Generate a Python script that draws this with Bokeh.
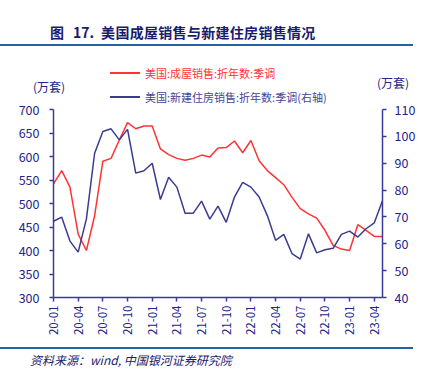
from bokeh.plotting import figure
from bokeh.models import Range1d, LinearAxis, FixedTicker, ColumnDataSource, Div
from bokeh.layouts import column
from bokeh.embed import file_html
from bokeh.resources import INLINE
import math

months = ["20-01", "20-02", "20-03", "20-04", "20-05", "20-06", "20-07", "20-08", "20-09", "20-10",
          "20-11", "20-12", "21-01", "21-02", "21-03", "21-04", "21-05", "21-06", "21-07", "21-08",
          "21-09", "21-10", "21-11", "21-12", "22-01", "22-02", "22-03", "22-04", "22-05", "22-06",
          "22-07", "22-08", "22-09", "22-10", "22-11", "22-12", "23-01", "23-02", "23-03", "23-04",
          "23-05"]
existing_sales = [542, 570, 535, 435, 400, 474, 590, 596, 635, 672,
                  659, 665, 665, 616, 604, 596, 592, 596, 603, 599,
                  618, 619, 633, 608, 634, 591, 570, 555, 540, 513,
                  489, 478, 469, 443, 411, 403, 400, 455, 443, 430,
                  430]
new_sales = [68.4, 69.9, 61.0, 56.9, 69.3, 93.7, 101.8, 102.8, 98.7, 102.6,
             86.3, 87.2, 90.0, 76.5, 84.8, 81.1, 71.4, 71.4, 75.9, 69.2,
             74.0, 68.0, 77.4, 82.9, 81.1, 77.4, 70.5, 61.3, 63.5, 56.3,
             54.3, 63.7, 56.6, 57.8, 58.3, 63.5, 64.7, 62.5, 65.6, 67.8,
             76.0]
tick_months = ["20-01", "20-04", "20-07", "20-10", "21-01", "21-04", "21-07", "21-10",
               "22-01", "22-04", "22-07", "22-10", "23-01", "23-04"]

title_fig = "图"
title_num = "17."
title_text = "美国成屋销售与新建住房销售情况"
label_existing = "美国:成屋销售:折年数:季调"
label_new = "美国:新建住房销售:折年数:季调(右轴)"
unit_text = "(万套)"
source_text = "资料来源：wind, 中国银河证券研究院"

FONT = "Noto Sans CJK SC"
AXIS_C = "#3A3A98"
TICK_C = "#24248A"
RED = "#FF3333"
BLUE = "#3B3B90"
LEG_BLUE = "#45459A"
NAVY = "#1A1A6E"
RULE = "#2462A6"

idx = list(range(len(months)))
src = ColumnDataSource(data=dict(x=idx, existing=existing_sales, new=new_sales))

# ---- top block: title, rule, legend, units ----
def abs_text(left, top, txt, size, color, extra=""):
    return (f'<div style="position:absolute;left:{left}px;top:{top}px;font-size:{size}px;'
            f'line-height:16px;color:{color};white-space:nowrap;{extra}">{txt}</div>')

def abs_bar(left, top, w, h, color):
    return (f'<div style="position:absolute;left:{left}px;top:{top}px;width:{w}px;'
            f'height:{h}px;background:{color};"></div>')

title_html = (f'<span>{title_fig}</span><span style="margin-left:9px">{title_num}</span>'
              f'<span style="margin-left:7px;letter-spacing:0.3px">{title_text}</span>')

top_html = (
    f'<div style="position:relative;width:428px;height:99px;overflow:visible;font-family:\'{FONT}\';">'
    + abs_text(50, 24, title_html, 14, NAVY, "font-weight:bold;")
    + abs_bar(0, 44, 413, 2, RULE)
    + abs_bar(110, 72, 30, 2, RED)
    + abs_text(145, 65, label_existing, 11, RED)
    + abs_bar(110, 96, 30, 2, BLUE)
    + abs_text(145, 89, label_new, 11, LEG_BLUE)
    + abs_text(33, 79, unit_text, 12, TICK_C)
    + abs_text(377, 75, unit_text, 12, TICK_C)
    + '</div>'
)
top_div = Div(text=top_html, width=428, height=99, margin=0, styles={"overflow": "visible"})

# ---- chart ----
p = figure(width=428, height=246, output_backend="svg", toolbar_location=None,
           x_range=Range1d(0, len(months) - 1), y_range=Range1d(300, 700),
           min_border_left=53, min_border_right=46, min_border_top=10, min_border_bottom=48,
           margin=0)
p.outline_line_color = None
p.xgrid.visible = False
p.ygrid.visible = False
p.background_fill_color = None
p.border_fill_color = None

p.extra_y_ranges = {"right": Range1d(40, 110)}

p.line("x", "existing", source=src, line_color=RED, line_width=1.5)
p.line("x", "new", source=src, line_color=BLUE, line_width=1.5, y_range_name="right")

def style_axis(ax):
    ax.axis_line_color = AXIS_C
    ax.axis_line_width = 1.5
    ax.major_tick_line_color = AXIS_C
    ax.major_tick_line_width = 1.5
    ax.major_tick_in = 0
    ax.major_tick_out = 4
    ax.minor_tick_line_color = None
    ax.major_label_text_color = TICK_C
    ax.major_label_text_font = FONT

xa = p.xaxis[0]
style_axis(xa)
tick_pos = [months.index(m) for m in tick_months]
xa.ticker = FixedTicker(ticks=tick_pos)
xa.major_label_overrides = {i: months[i] for i in tick_pos}
xa.major_label_orientation = math.pi / 2
xa.major_label_text_font_size = "11.5px"
xa.major_label_standoff = 4

ya = p.yaxis[0]
style_axis(ya)
ya.ticker = FixedTicker(ticks=list(range(300, 701, 50)))
ya.major_label_text_font_size = "12.5px"
ya.major_label_standoff = 10

ra = LinearAxis(y_range_name="right")
style_axis(ra)
ra.ticker = FixedTicker(ticks=list(range(40, 111, 10)))
ra.major_label_text_font_size = "12.5px"
ra.major_label_standoff = 8
p.add_layout(ra, "right")

# ---- bottom block: rule and source ----
bottom_html = (
    f'<div style="position:relative;width:428px;height:28px;font-family:\'{FONT}\';">'
    + abs_bar(0, 2, 413, 2, RULE)
    + abs_text(30, 7, source_text, 12, NAVY, "font-style:italic;")
    + '</div>'
)
bottom_div = Div(text=bottom_html, width=428, height=28, margin=0)

layout = column(top_div, p, bottom_div, spacing=0)
open("out.html", "w").write(file_html(layout, INLINE))
